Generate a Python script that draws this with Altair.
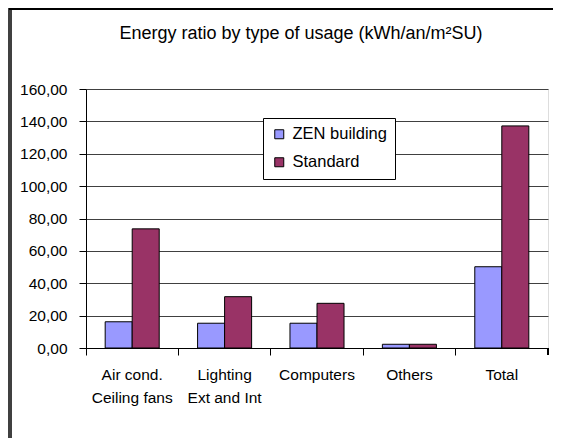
import altair as alt
import pandas as pd

title_text = "Energy ratio by type of usage (kWh/an/m²SU)"
categories = ["Air cond. Ceiling fans", "Lighting Ext and Int", "Computers", "Others", "Total"]
series = ["ZEN building", "Standard"]
zen_values = [16.2, 15.3, 15.3, 2.3, 50.2]
standard_values = [73.6, 31.7, 27.6, 2.3, 137.2]
y_ticks = [0, 20, 40, 60, 80, 100, 120, 140, 160]
colors = ["#9999FF", "#993366"]

rows = []
for c, z, s in zip(categories, zen_values, standard_values):
    rows.append({"category": c, "series": series[0], "value": z})
    rows.append({"category": c, "series": series[1], "value": s})
df = pd.DataFrame(rows)

FONT = "Liberation Sans"

label_expr = (
    "datum.value == 'Air cond. Ceiling fans' ? ['Air cond.', 'Ceiling fans'] : "
    "datum.value == 'Lighting Ext and Int' ? ['Lighting', 'Ext and Int'] : datum.value"
)

bars = alt.Chart(df).mark_bar(stroke="black", strokeWidth=1).encode(
    x=alt.X(
        "category:N",
        sort=categories,
        scale=alt.Scale(paddingInner=0, paddingOuter=0),
        axis=alt.Axis(
            title=None,
            labelAngle=0,
            bandPosition=0,
            labelExpr=label_expr,
            labelFont=FONT,
            labelFontSize=15.5,
            labelColor="black",
            labelLineHeight=23,
            labelPadding=12,
            labelBaseline="top",
            tickSize=7,
            tickColor="black",
            domainColor="black",
            grid=False,
        ),
    ),
    xOffset=alt.XOffset(
        "series:N",
        sort=series,
        scale=alt.Scale(paddingOuter=0.71, paddingInner=0),
    ),
    y=alt.Y(
        "value:Q",
        scale=alt.Scale(domain=[0, 160], nice=False),
        axis=alt.Axis(
            title=None,
            values=y_ticks,
            labelExpr="replace(format(datum.value, '.2f'), '.', ',')",
            labelFont=FONT,
            labelFontSize=15.5,
            labelColor="black",
            labelPadding=12,
            tickSize=7,
            tickColor="black",
            domainColor="black",
            gridColor="#404040",
            gridOpacity=1,
        ),
    ),
    color=alt.Color(
        "series:N",
        sort=series,
        scale=alt.Scale(domain=series, range=colors),
        legend=alt.Legend(
            title=None,
            orient="none",
            legendX=177,
            legendY=29,
            fillColor="white",
            strokeColor="black",
            padding=8,
            symbolType="square",
            symbolSize=81,
            symbolStrokeColor="black",
            symbolStrokeWidth=1,
            symbolOpacity=1,
            labelFont=FONT,
            labelFontSize=16.5,
            labelColor="black",
            labelOffset=5,
            rowPadding=11,
        ),
    ),
)

title_mark = alt.Chart(pd.DataFrame({"t": [title_text]})).mark_text(
    font=FONT, fontSize=18, color="black", align="center", baseline="alphabetic", clip=False
).encode(text="t:N", x=alt.value(215), y=alt.value(-50))

# decorative right-end tick and outer frame
end_tick = alt.Chart(df).mark_rule(color="black", strokeWidth=1).encode(
    x=alt.value(462), y=alt.value(259), y2=alt.value(266)
)
frame_left = alt.Chart(df).mark_rule(color="#404040", strokeWidth=3, clip=False).encode(
    x=alt.value(-76), y=alt.value(-81), y2=alt.value(360)
)
frame_top = alt.Chart(df).mark_rule(color="black", strokeWidth=2, clip=False).encode(
    x=alt.value(-77), x2=alt.value(470), y=alt.value(-80)
)

chart = alt.layer(bars, end_tick, frame_left, frame_top, title_mark).properties(
    width=462,
    height=259,
    autosize=alt.AutoSizeParams(type="none"),
    padding={"left": 78, "top": 81, "right": 5, "bottom": 90},
).configure_view(stroke="#808080", strokeWidth=1).configure(background="white")

chart.save("out.html", embed_options={"renderer": "svg", "actions": False})
